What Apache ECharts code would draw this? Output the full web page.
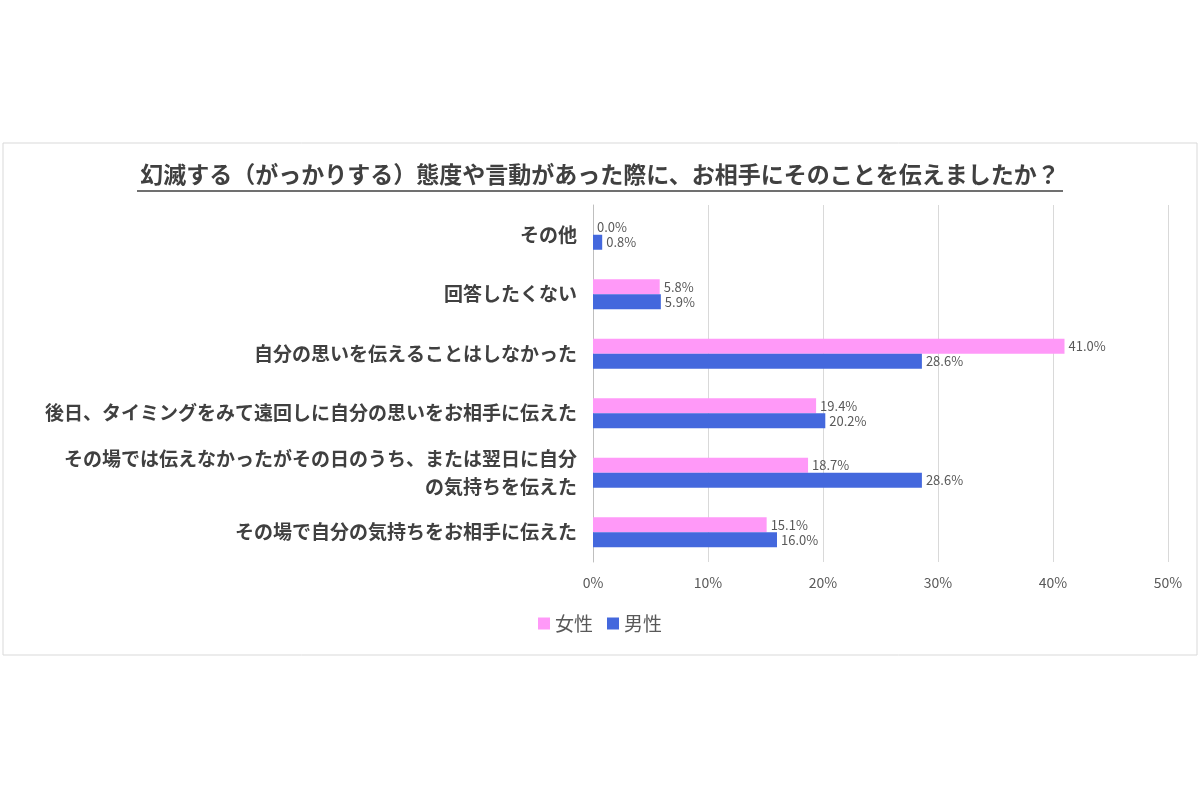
<!DOCTYPE html>
<html><head><meta charset="utf-8">
<script src="https://cdn.jsdelivr.net/npm/echarts@6/dist/echarts.min.js"></script>
<style>html,body{margin:0;padding:0;background:#fff}#c{width:1200px;height:800px}</style>
</head><body><div id="c"></div>
<script>
const categories = [
  'その場で自分の気持ちをお相手に伝えた',
  'その場では伝えなかったがその日のうち、または翌日に自分\nの気持ちを伝えた',
  '後日、タイミングをみて遠回しに自分の思いをお相手に伝えた',
  '自分の思いを伝えることはしなかった',
  '回答したくない',
  'その他'
];
const female = [15.1, 18.7, 19.4, 41.0, 5.8, 0.0];
const male = [16.0, 28.6, 20.2, 28.6, 5.9, 0.8];
const xTicks = [0, 10, 20, 30, 40, 50];
const titleText = '幻滅する（がっかりする）態度や言動があった際に、お相手にそのことを伝えましたか？';
const font = '"Noto Sans CJK JP", sans-serif';
const chart = echarts.init(document.getElementById('c'));
const lbl = {show:true, position:'right', formatter:p=>p.value.toFixed(1)+'%', color:'#595959', fontSize:13, fontFamily:font, distance:4};
chart.setOption({
  animation:false,
  textStyle:{fontFamily:font},
  title:{text:titleText, left:'center', top:158, textStyle:{fontSize:23, fontWeight:'bold', color:'#404040', fontFamily:font}},
  graphic:[
    {type:'rect', shape:{x:3,y:143,width:1194,height:512}, style:{fill:'none', stroke:'#d9d9d9', lineWidth:1}},
    {type:'line', shape:{x1:137,y1:191,x2:1063,y2:191}, style:{stroke:'#404040', lineWidth:1.5}}
  ],
  legend:{data:['女性','男性'], bottom:162, left:'center', itemWidth:12, itemHeight:12, icon:'rect', itemGap:14,
    textStyle:{fontSize:19, color:'#595959', fontFamily:font}},
  grid:{left:593, right:32, top:205, bottom:238},
  xAxis:{type:'value', min:0, max:50, interval:10,
    axisLabel:{formatter:v=>v+'%', color:'#595959', fontSize:14, margin:14},
    splitLine:{lineStyle:{color:'#d9d9d9'}}, axisLine:{show:false}, axisTick:{show:false}},
  yAxis:{type:'category', data:categories,
    axisLabel:{color:'#404040', fontSize:19, fontWeight:'bold', margin:16, lineHeight:28, fontFamily:font},
    axisLine:{lineStyle:{color:'#bfbfbf'}}, axisTick:{show:false}},
  series:[
    {name:'女性', type:'bar', data:female, barWidth:15, barGap:'0%', itemStyle:{color:'#FF99F8'}, label:lbl},
    {name:'男性', type:'bar', data:male, barWidth:15, barGap:'0%', itemStyle:{color:'#4468DD'}, label:lbl}
  ]
});
</script></body></html>
